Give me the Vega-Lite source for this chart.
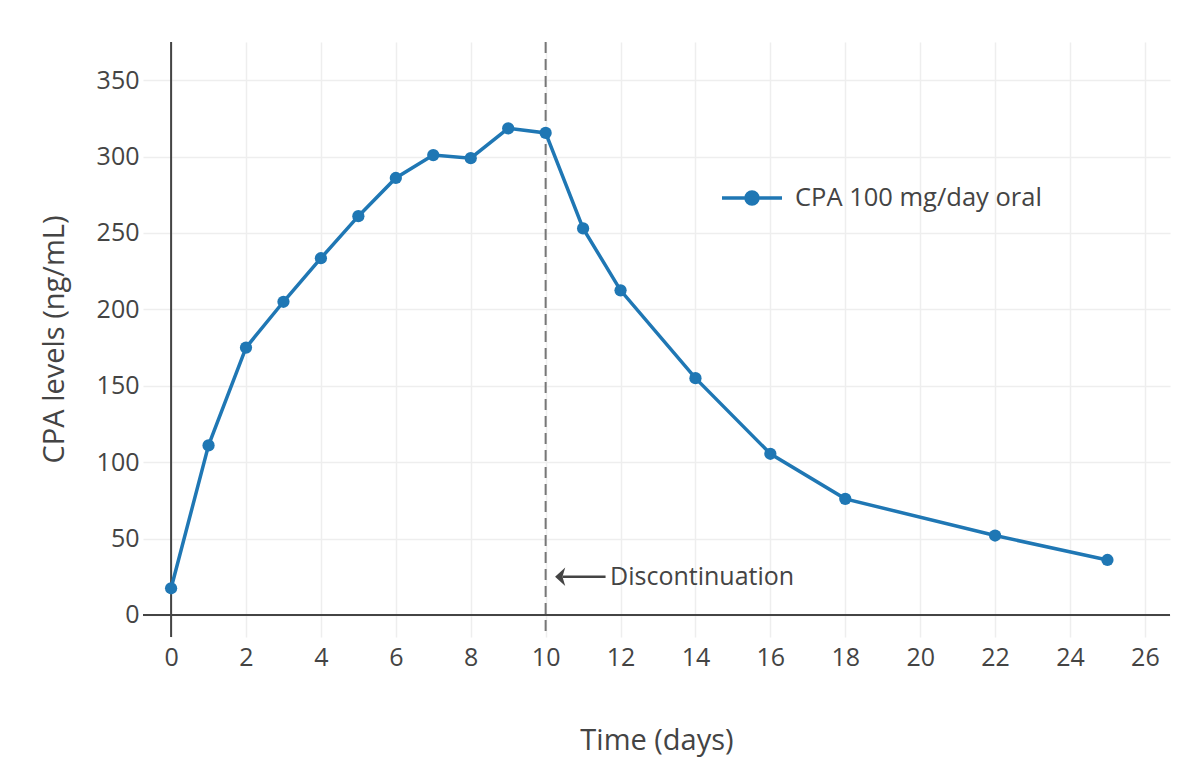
{
  "$schema": "https://vega.github.io/schema/vega-lite/v6.json",
  "width": 1027,
  "height": 595,
  "autosize": {"type": "none"},
  "padding": {"left": 143, "top": 42, "right": 24, "bottom": 147},
  "background": "white",
  "config": {
    "font": "Open Sans",
    "view": {"stroke": null},
    "axis": {
      "labelFont": "Open Sans",
      "titleFont": "Open Sans",
      "labelColor": "#444",
      "titleColor": "#444",
      "labelFontSize": 25,
      "titleFontSize": 29,
      "titleFontWeight": "normal",
      "gridColor": "#eeeeee",
      "gridWidth": 1.5,
      "domain": false,
      "ticks": false
    },
    "legend": {
      "labelFont": "Open Sans",
      "labelColor": "#444",
      "labelFontSize": 25.5,
      "labelLimit": 0
    }
  },
  "datasets": {
    "cpa": [
      {"day": 0, "level": 17.5, "series": "CPA 100 mg/day oral"},
      {"day": 1, "level": 111, "series": "CPA 100 mg/day oral"},
      {"day": 2, "level": 175, "series": "CPA 100 mg/day oral"},
      {"day": 3, "level": 205, "series": "CPA 100 mg/day oral"},
      {"day": 4, "level": 233.5, "series": "CPA 100 mg/day oral"},
      {"day": 5, "level": 261, "series": "CPA 100 mg/day oral"},
      {"day": 6, "level": 286, "series": "CPA 100 mg/day oral"},
      {"day": 7, "level": 301, "series": "CPA 100 mg/day oral"},
      {"day": 8, "level": 299, "series": "CPA 100 mg/day oral"},
      {"day": 9, "level": 318.5, "series": "CPA 100 mg/day oral"},
      {"day": 10, "level": 315.5, "series": "CPA 100 mg/day oral"},
      {"day": 11, "level": 253, "series": "CPA 100 mg/day oral"},
      {"day": 12, "level": 212.5, "series": "CPA 100 mg/day oral"},
      {"day": 14, "level": 155, "series": "CPA 100 mg/day oral"},
      {"day": 16, "level": 105.5, "series": "CPA 100 mg/day oral"},
      {"day": 18, "level": 76, "series": "CPA 100 mg/day oral"},
      {"day": 22, "level": 52, "series": "CPA 100 mg/day oral"},
      {"day": 25, "level": 36, "series": "CPA 100 mg/day oral"}
    ]
  },
  "layer": [
    {
      "data": {"values": [{"x": 0}]},
      "mark": {"type": "rule", "color": "#444", "strokeWidth": 2},
      "encoding": {
        "x": {"field": "x", "type": "quantitative", "scale": {"domain": [-0.75, 26.67], "nice": false, "zero": false}, "axis": {"title": "Time (days)", "values": [0, 2, 4, 6, 8, 10, 12, 14, 16, 18, 20, 22, 24, 26], "grid": true, "labelPadding": 8, "titleY": 103, "titleBaseline": "middle"}}
      }
    },
    {
      "data": {"values": [{"y": 0}]},
      "mark": {"type": "rule", "color": "#444", "strokeWidth": 2},
      "encoding": {
        "y": {"field": "y", "type": "quantitative", "scale": {"domain": [-14.4, 375], "nice": false, "zero": false}, "axis": {"title": "CPA levels (ng/mL)", "values": [0, 50, 100, 150, 200, 250, 300, 350], "grid": true, "labelPadding": 4, "titleX": -89, "titleY": 297, "titleBaseline": "middle"}}
      }
    },
    {
      "data": {"values": [{"x": 10}]},
      "mark": {"type": "rule", "color": "#777", "strokeWidth": 2, "strokeDash": [11, 6]},
      "encoding": {"x": {"field": "x", "type": "quantitative"}}
    },
    {
      "data": {"name": "cpa"},
      "mark": {"type": "line", "strokeWidth": 3.5, "point": {"size": 150, "filled": true, "opacity": 1}},
      "encoding": {
        "x": {"field": "day", "type": "quantitative"},
        "y": {"field": "level", "type": "quantitative"},
        "color": {
          "field": "series", "type": "nominal",
          "scale": {"range": ["#1f77b4"]},
          "legend": {
            "title": null,
            "orient": "none",
            "legendX": 577,
            "legendY": 124,
            "symbolType": "M-1,0L1,0M0.2,0A0.2,0.2,0,1,1,-0.2,0A0.2,0.2,0,1,1,0.2,0",
            "symbolSize": 3600,
            "symbolStrokeWidth": 3.5,
            "symbolFillColor": "#1f77b4",
            "symbolStrokeColor": "#1f77b4",
            "labelOffset": 11
          }
        }
      }
    },
    {
      "data": {"values": [{"x1": 10.45, "x2": 11.6, "y": 25}]},
      "mark": {"type": "rule", "color": "#444", "strokeWidth": 2.5},
      "encoding": {
        "x": {"field": "x1", "type": "quantitative"},
        "x2": {"field": "x2"},
        "y": {"field": "y", "type": "quantitative"}
      }
    },
    {
      "data": {"values": [{"x": 10.4, "y": 25}]},
      "mark": {"type": "point", "shape": "M-0.6,0L0.5,-1L0.2,0L0.5,1Z", "filled": true, "color": "#444", "size": 340, "opacity": 1},
      "encoding": {
        "x": {"field": "x", "type": "quantitative"},
        "y": {"field": "y", "type": "quantitative"}
      }
    },
    {
      "data": {"values": [{"x": 11.72, "y": 25, "label": "Discontinuation"}]},
      "mark": {"type": "text", "align": "left", "baseline": "middle", "fontSize": 25, "color": "#444", "font": "Open Sans"},
      "encoding": {
        "x": {"field": "x", "type": "quantitative"},
        "y": {"field": "y", "type": "quantitative"},
        "text": {"field": "label"}
      }
    }
  ]
}
